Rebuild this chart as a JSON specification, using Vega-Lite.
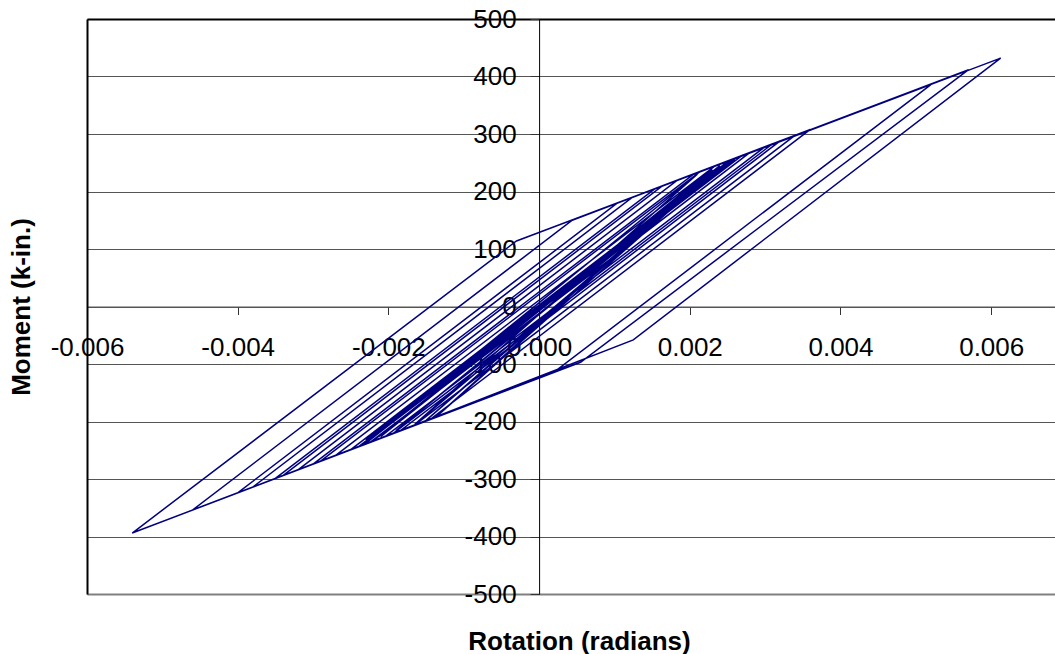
{
  "$schema": "https://vega.github.io/schema/vega-lite/v6.json",
  "width": 969,
  "height": 575,
  "autosize": {"type": "none"},
  "padding": {"left": 87, "top": 19, "right": 0, "bottom": 60},
  "background": "white",
  "config": {
    "view": {"stroke": null},
    "font": "Liberation Sans",
    "locale": {"number": {"decimal": ".", "thousands": ",", "grouping": [3], "currency": ["$", ""], "minus": "-"}}
  },
  "data": {
    "values": [
      {"i": 0, "r": 0, "m": 0},
      {"i": 1, "r": 0.0012, "m": 120},
      {"i": 2, "r": -0.0011, "m": -110},
      {"i": 3, "r": 0.0018, "m": 180},
      {"i": 4, "r": -0.0017, "m": -170},
      {"i": 5, "r": 0.0022, "m": 221},
      {"i": 6, "r": -0.002, "m": -199},
      {"i": 7, "r": 0.0024, "m": 240},
      {"i": 8, "r": -0.0022, "m": -220},
      {"i": 9, "r": 0.0024, "m": 244},
      {"i": 10, "r": -0.00136, "m": -191},
      {"i": 11, "r": 0.00226, "m": 236},
      {"i": 12, "r": -0.0021, "m": -226},
      {"i": 13, "r": 0.0025, "m": 252},
      {"i": 14, "r": -0.00165, "m": -205},
      {"i": 15, "r": 0.0021, "m": 230},
      {"i": 16, "r": -0.00229, "m": -237},
      {"i": 17, "r": 0.0024, "m": 245},
      {"i": 18, "r": -0.0019, "m": -216},
      {"i": 19, "r": 0.00245, "m": 247},
      {"i": 20, "r": -0.00212, "m": -226},
      {"i": 21, "r": 0.0023, "m": 238},
      {"i": 22, "r": -0.0015, "m": -198},
      {"i": 23, "r": 0.0024, "m": 244},
      {"i": 24, "r": -0.0022, "m": -219},
      {"i": 25, "r": 0.00256, "m": 256},
      {"i": 26, "r": 0.0026, "m": 258},
      {"i": 27, "r": -0.0023, "m": -232},
      {"i": 28, "r": 0.0026, "m": 258},
      {"i": 29, "r": 0.0027, "m": 263},
      {"i": 30, "r": -0.00234, "m": -241},
      {"i": 31, "r": -0.0024, "m": -244},
      {"i": 32, "r": 0.0026, "m": 256},
      {"i": 33, "r": -0.0024, "m": -244},
      {"i": 34, "r": -0.0025, "m": -249},
      {"i": 35, "r": 0.00254, "m": 255},
      {"i": 36, "r": 0.0028, "m": 268},
      {"i": 37, "r": -0.00224, "m": -236},
      {"i": 38, "r": -0.0027, "m": -259},
      {"i": 39, "r": 0.00234, "m": 245},
      {"i": 40, "r": 0.0028, "m": 268},
      {"i": 41, "r": -0.00222, "m": -235},
      {"i": 42, "r": -0.0029, "m": -269},
      {"i": 43, "r": 0.00214, "m": 235},
      {"i": 44, "r": 0.003, "m": 278},
      {"i": 45, "r": -0.00204, "m": -226},
      {"i": 46, "r": -0.003, "m": -274},
      {"i": 47, "r": 0.00206, "m": 231},
      {"i": 48, "r": 0.0031, "m": 283},
      {"i": 49, "r": -0.00194, "m": -221},
      {"i": 50, "r": -0.0032, "m": -284},
      {"i": 51, "r": 0.00184, "m": 220},
      {"i": 52, "r": 0.0032, "m": 288},
      {"i": 53, "r": -0.00184, "m": -216},
      {"i": 54, "r": -0.0034, "m": -294},
      {"i": 55, "r": 0.00164, "m": 210},
      {"i": 56, "r": 0.0034, "m": 298},
      {"i": 57, "r": -0.00166, "m": -207},
      {"i": 58, "r": -0.0035, "m": -299},
      {"i": 59, "r": 0.00154, "m": 205},
      {"i": 60, "r": 0.0036, "m": 308},
      {"i": 61, "r": -0.00144, "m": -196},
      {"i": 62, "r": -0.0038, "m": -314},
      {"i": 63, "r": 0.00124, "m": 190},
      {"i": 64, "r": 0.0036, "m": 308},
      {"i": 65, "r": -0.00144, "m": -196},
      {"i": 66, "r": -0.004, "m": -324},
      {"i": 67, "r": 0.00104, "m": 180},
      {"i": 68, "r": 0.0036, "m": 308},
      {"i": 69, "r": -0.00144, "m": -196},
      {"i": 70, "r": -0.004, "m": -324},
      {"i": 71, "r": 0.00104, "m": 180},
      {"i": 72, "r": 0.0052, "m": 386},
      {"i": 73, "r": 0.00022, "m": -112},
      {"i": 74, "r": -0.0046, "m": -354},
      {"i": 75, "r": 0.00044, "m": 150},
      {"i": 76, "r": 0.0057, "m": 412},
      {"i": 77, "r": 0.00055, "m": -97},
      {"i": 78, "r": -0.0054, "m": -394},
      {"i": 79, "r": -0.0003, "m": 114},
      {"i": 80, "r": 0.006125, "m": 432},
      {"i": 81, "r": 0.00125, "m": -58},
      {"i": 82, "r": -0.0021, "m": -229}
    ]
  },
  "layer": [
    {
      "mark": {"type": "line", "strokeOpacity": 0},
      "encoding": {
        "x": {
          "field": "r", "type": "quantitative",
          "scale": {"domain": [-0.006, 0.00686], "nice": false, "zero": false},
          "axis": {
            "orient": "bottom", "offset": 0, "labels": false, "ticks": false, "grid": false,
            "domain": true, "domainColor": "#808080", "domainWidth": 2,
            "title": "Rotation (radians)", "titleFontSize": 26, "titleFontWeight": "bold",
            "titleColor": "#000000", "titleX": 492, "titleY": 55, "titleBaseline": "alphabetic", "titleAlign": "center"
          }
        },
        "y": {
          "field": "m", "type": "quantitative",
          "scale": {"domain": [-500, 500], "nice": false, "zero": false},
          "axis": {
            "orient": "left", "offset": 0, "values": [-500, -400, -300, -200, -100, 0, 100, 200, 300, 400, 500],
            "labels": false, "ticks": false, "grid": true, "gridColor": "#555555", "gridWidth": 1,
            "domain": true, "domainColor": "#000000", "domainWidth": 2,
            "title": "Moment (k-in.)", "titleFontSize": 26, "titleFontWeight": "bold", "titleColor": "#000000",
            "titleX": -58, "titleY": 287.5, "titleAngle": 270, "titleBaseline": "alphabetic", "titleAlign": "center"
          }
        },
        "order": {"field": "i", "type": "quantitative"}
      }
    },
    {
      "mark": {"type": "line", "strokeOpacity": 0},
      "encoding": {
        "x": {
          "field": "r", "type": "quantitative",
          "scale": {"domain": [-0.006, 0.00686], "nice": false, "zero": false},
          "axis": {"orient": "top", "labels": false, "ticks": false, "grid": false, "domain": true, "domainColor": "#000000", "domainWidth": 2, "title": null}
        },
        "y": {
          "field": "m", "type": "quantitative",
          "scale": {"domain": [-500, 500], "nice": false, "zero": false},
          "axis": null
        },
        "order": {"field": "i", "type": "quantitative"}
      }
    },
    {
      "mark": {"type": "line", "color": "#000080", "strokeWidth": 1.5},
      "encoding": {
        "x": {
          "field": "r", "type": "quantitative",
          "scale": {"domain": [-0.006, 0.00686], "nice": false, "zero": false},
          "axis": {
            "orient": "bottom", "offset": -287.5,
            "values": [-0.006, -0.004, -0.002, 0, 0.002, 0.004, 0.006], "format": ".3f",
            "labelFontSize": 26, "labelColor": "#000000", "labelPadding": 20, "labelFlush": false, "labelOverlap": false,
            "ticks": true, "tickSize": 8, "tickColor": "#333333", "tickWidth": 1,
            "domain": true, "domainColor": "#555555", "domainWidth": 1, "grid": false, "title": null
          }
        },
        "y": {
          "field": "m", "type": "quantitative",
          "scale": {"domain": [-500, 500], "nice": false, "zero": false},
          "axis": {
            "orient": "left", "offset": -452.1,
            "values": [-500, -400, -300, -200, -100, 0, 100, 200, 300, 400, 500], "format": "d",
            "labelFontSize": 26, "labelColor": "#000000", "labelPadding": 14, "labelOverlap": false,
            "ticks": true, "tickSize": 9, "tickColor": "#333333", "tickWidth": 1,
            "domain": true, "domainColor": "#000000", "domainWidth": 1, "grid": false, "title": null
          }
        },
        "order": {"field": "i", "type": "quantitative"}
      }
    }
  ],
  "resolve": {"axis": {"x": "independent", "y": "independent"}}
}
